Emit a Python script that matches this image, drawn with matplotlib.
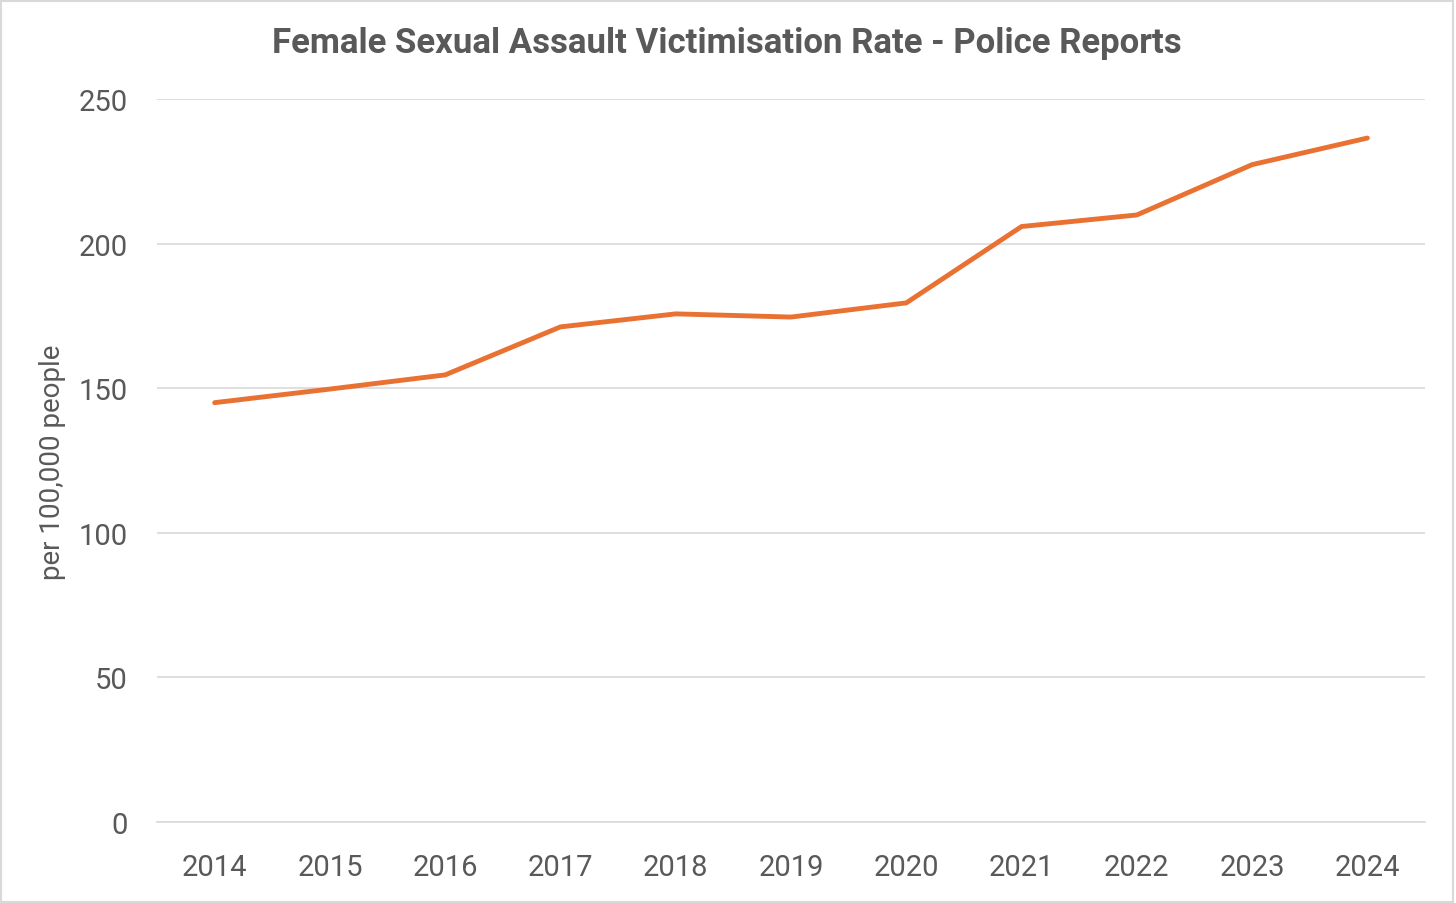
import matplotlib
matplotlib.use("Agg")
import matplotlib.pyplot as plt
from matplotlib.patches import Rectangle

years = ["2014", "2015", "2016", "2017", "2018", "2019", "2020", "2021", "2022", "2023", "2024"]
rate = [145, 149.7, 154.6, 171.2, 175.7, 174.6, 179.5, 205.9, 209.9, 227.3, 236.5]

text_col = "#595959"
plt.rcParams["font.family"] = ["Roboto", "DejaVu Sans"]

fig = plt.figure(figsize=(14.56, 9.04), dpi=100)
ax = fig.add_axes([157 / 1456, 1 - 823 / 904, (1425 - 157) / 1456, (823 - 100) / 904])

x = list(range(len(years)))
ax.plot(x, rate, color="#E97132", lw=3.5, solid_capstyle="round", solid_joinstyle="round", zorder=3)

ax.set_xlim(-0.5, len(years) - 0.5)
ax.set_ylim(0, 250)
ax.set_yticks([0, 50, 100, 150, 200, 250])
ax.set_xticks(x)
ax.set_xticklabels(years)
ax.grid(axis="y", color="#D9D9D9", lw=1.2)
ax.set_axisbelow(True)
for s in ["top", "right", "left"]:
    ax.spines[s].set_visible(False)
ax.spines["bottom"].set_color("#D9D9D9")
ax.spines["bottom"].set_linewidth(1.2)
ax.tick_params(length=0, labelsize=21, colors=text_col)
ax.tick_params(axis="y", pad=21)
ax.tick_params(axis="x", pad=22)

fig.text(52 / 1456, 1 - 462 / 904, "per 100,000 people", rotation=90,
         ha="center", va="center", fontsize=20, color=text_col)

fig.text(0.5 * (268 + 1185) / 1456, 1 - 43 / 904, "Female Sexual Assault Victimisation Rate - Police Reports",
         ha="center", va="center", fontsize=25, fontweight="bold", color=text_col)

fig.patches.append(Rectangle((0.001, 0.001), 0.997, 0.997, transform=fig.transFigure,
                             fill=False, edgecolor="#D9D9D9", lw=1.5))

fig.savefig("out.png", dpi=100)
